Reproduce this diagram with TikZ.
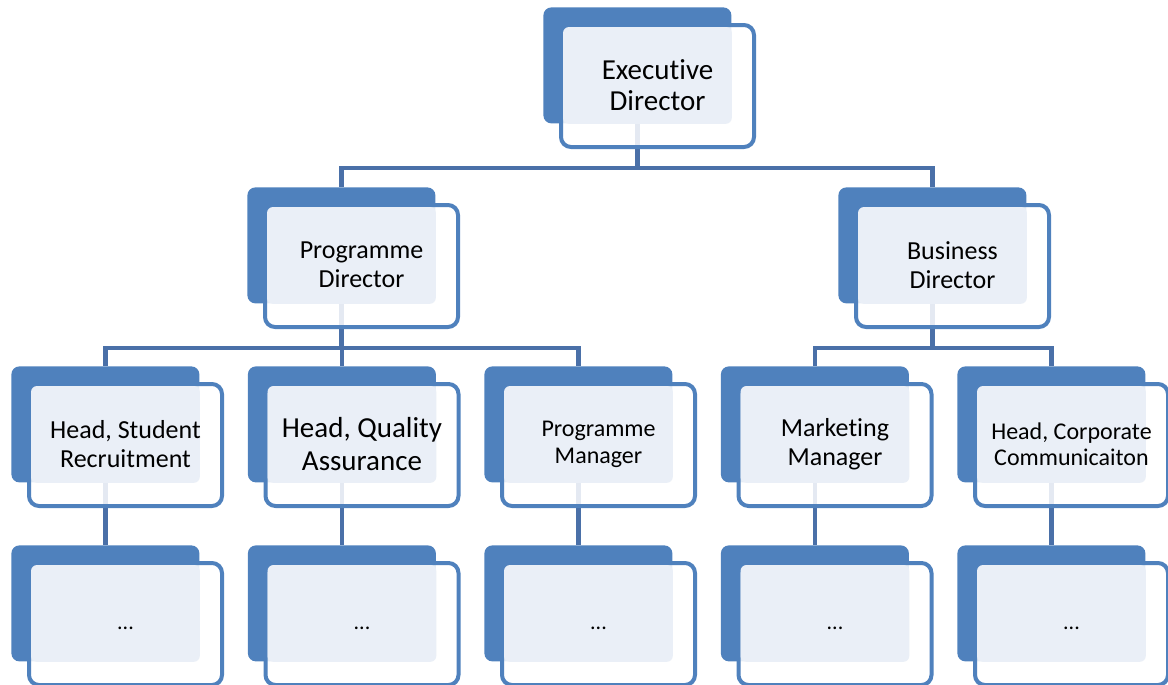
\documentclass[tikz,border=0pt]{standalone}
\usepackage{fontspec}
\setmainfont{Carlito}[Ligatures=NoCommon]

\definecolor{orgblue}{HTML}{4F81BD}
\definecolor{linkblue}{HTML}{4A70A8}
\definecolor{paleblue}{HTML}{EAEFF7}

\tikzset{
	block/.style={fill=orgblue, rounded corners=4pt, minimum width=94pt, minimum height=58pt, inner sep=0pt, anchor=north west},
	frame/.style={draw=orgblue, line width=2pt, fill=white, fill opacity=0.85, rounded corners=5pt},
	lite/.style={fill=paleblue, rounded corners=3pt},
	link/.style={draw=linkblue, line width=2.2pt},
	lbl/.style={align=center, text=black, inner sep=0pt}
}

\begin{document}
\begin{tikzpicture}[x=0.5pt,y=-0.5pt]
	\useasboundingbox (0,0) rectangle (1168,685);
	% back blocks
	\node[block] (ed) at (543,7) {};
	\node[block] (pd) at (247,187) {};
	\node[block] (bd) at (838,187) {};
	\node[block] (hsr) at (11,366) {};
	\node[block] (hqa) at (247.5,366) {};
	\node[block] (pm) at (484,366) {};
	\node[block] (mm) at (720.5,366) {};
	\node[block] (hcc) at (957,366) {};
	\node[block] (hsrx) at (11,545) {};
	\node[block] (hqax) at (247.5,545) {};
	\node[block] (pmx) at (484,545) {};
	\node[block] (mmx) at (720.5,545) {};
	\node[block] (hccx) at (957,545) {};
	% connectors
	\draw[link] (ed.south) -- ++(0,44) -| (pd.north);
	\draw[link] (ed.south) ++(0,44) -| (bd.north);
	\draw[link] (pd.south) -- ++(0,44) -| (hsr.north);
	\draw[link] (pd.south) ++(0,44) -| (hqa.north);
	\draw[link] (pd.south) ++(0,44) -| (pm.north);
	\draw[link] (bd.south) -- ++(0,44) -| (mm.north);
	\draw[link] (bd.south) ++(0,44) -| (hcc.north);
	\draw[link] (hsr.south) -- (hsrx.north);
	\draw[link] (hqa.south) -- (hqax.north);
	\draw[link] (pm.south) -- (pmx.north);
	\draw[link] (mm.south) -- (mmx.north);
	\draw[link] (hcc.south) -- (hccx.north);
	% front cards
	\foreach \n in {ed,pd,bd,hsr,hqa,pm,mm,hcc,hsrx,hqax,pmx,mmx,hccx}{
		\draw[frame] ([shift={(18,18)}]\n.north west) rectangle ++(193,122);
		\fill[lite] ([shift={(20,20)}]\n.north west) rectangle (\n.south east);
	}
	% texts
	\node[lbl,font=\fontsize{14.5}{15.5}\selectfont] (edt) at ([shift={(114.5,78)}]ed.north west) {Executive\\Director};
	\node[lbl,font=\fontsize{13}{14.5}\selectfont] (pdt) at ([shift={(114.5,78)}]pd.north west) {Programme\\Director};
	\node[lbl,font=\fontsize{13}{14.5}\selectfont] (bdt) at ([shift={(114.5,78)}]bd.north west) {Business\\Director};
	\node[lbl,font=\fontsize{13}{14.5}\selectfont] (hsrt) at ([shift={(114.5,78)}]hsr.north west) {Head, Student\\Recruitment};
	\node[lbl,font=\fontsize{14.5}{16.5}\selectfont] (hqat) at ([shift={(114.5,78)}]hqa.north west) {Head, Quality\\Assurance};
	\node[lbl,font=\fontsize{12}{13.5}\selectfont] (pmt) at ([shift={(114.5,78)}]pm.north west) {Programme\\Manager};
	\node[lbl,font=\fontsize{13}{14.5}\selectfont] (mmt) at ([shift={(114.5,78)}]mm.north west) {Marketing\\Manager};
	\node[lbl,font=\fontsize{12}{13}\selectfont] (hcct) at ([shift={(114.5,78)}]hcc.north west) {Head, Corporate\\Communicaiton};
	\node[lbl,font=\fontsize{11}{12}\selectfont] (hsrxt) at ([shift={(114.5,83)}]hsrx.north west) {...};
	\node[lbl,font=\fontsize{11}{12}\selectfont] (hqaxt) at ([shift={(114.5,83)}]hqax.north west) {...};
	\node[lbl,font=\fontsize{11}{12}\selectfont] (pmxt) at ([shift={(114.5,83)}]pmx.north west) {...};
	\node[lbl,font=\fontsize{11}{12}\selectfont] (mmxt) at ([shift={(114.5,83)}]mmx.north west) {...};
	\node[lbl,font=\fontsize{11}{12}\selectfont] (hccxt) at ([shift={(114.5,83)}]hccx.north west) {...};
\end{tikzpicture}
\end{document}
